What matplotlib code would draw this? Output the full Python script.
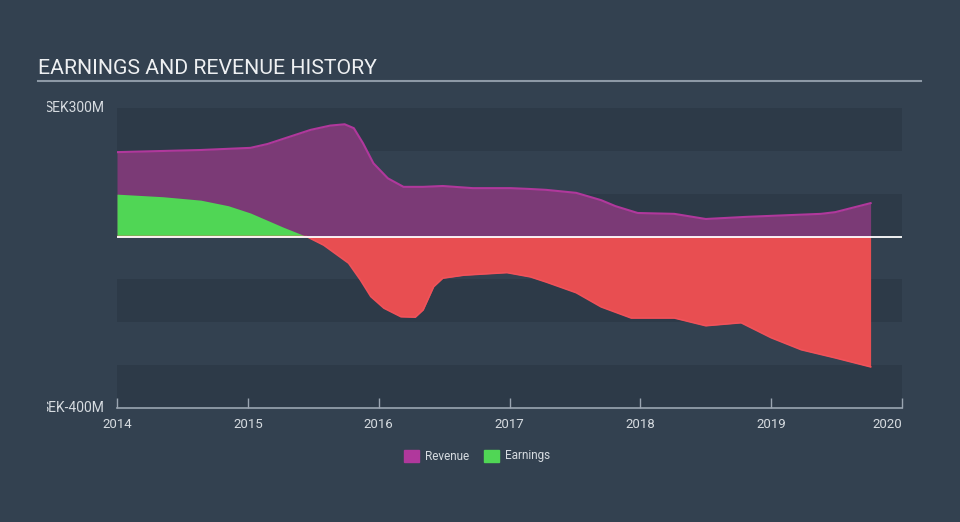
import matplotlib.pyplot as plt
import matplotlib.transforms as mtransforms
from matplotlib.patches import Rectangle

plt.rcParams['font.family'] = ['Roboto', 'DejaVu Sans']

# revenue (SEK millions), decimal years
rev_years = [2014.00, 2014.64, 2015.02, 2015.15, 2015.32, 2015.48, 2015.63, 2015.74,
             2015.81, 2015.88, 2015.96, 2016.07, 2016.19, 2016.34, 2016.49, 2016.72,
             2017.01, 2017.16, 2017.28, 2017.51, 2017.70, 2017.81, 2017.98, 2018.26,
             2018.50, 2018.81, 2019.38, 2019.49, 2019.76]
revenue = [197, 202, 207, 216, 233, 249, 259, 262,
           253, 218, 171, 136, 116, 116, 118, 113,
           113, 111, 109, 102, 85, 71, 55, 53,
           41, 46, 53, 57, 78]

# earnings (SEK millions)
earn_years = [2014.00, 2014.35, 2014.64, 2014.85, 2015.02, 2015.27, 2015.45, 2015.58,
              2015.77, 2015.86, 2015.94, 2016.04, 2016.17, 2016.28, 2016.34, 2016.42,
              2016.49, 2016.65, 2016.98, 2017.16, 2017.28, 2017.51, 2017.70, 2017.93,
              2018.26, 2018.50, 2018.77, 2019.00, 2019.23, 2019.49, 2019.76]
earnings = [99, 93, 85, 72, 55, 22, 0, -20,
            -62, -101, -140, -167, -187, -188, -171, -117,
            -97, -90, -84, -94, -106, -131, -164, -190,
            -190, -208, -201, -236, -264, -283, -304]

year_ticks = [2014, 2015, 2016, 2017, 2018, 2019, 2020]
ytick_labels = {300: 'SEK300M', -400: 'SEK-400M'}

bg = '#334150'
band = '#2d3a48'
text_col = '#d6dbe0'

fig = plt.figure(figsize=(9.6, 5.22), dpi=100)
fig.patch.set_facecolor(bg)
ax = fig.add_axes([117/960, (522-408)/522, (902-117)/960, 300/522])
ax.set_facecolor(bg)
ax.set_xlim(2014, 2020)
ax.set_ylim(-400, 300)

# alternating bands
for lo in [200, 0, -200, -400]:
    ax.axhspan(lo, lo + 100, color=band, lw=0, zorder=0)

ax.fill_between(rev_years, revenue, 0, color='#7b3a76', lw=0, zorder=2)
ax.plot(rev_years, revenue, color='#b0389c', lw=1.5, zorder=3)

ax.fill_between(earn_years, earnings, 0, where=[e >= 0 for e in earnings],
                interpolate=True, color='#50d655', lw=0, zorder=4)
ax.fill_between(earn_years, earnings, 0, where=[e <= 0 for e in earnings],
                interpolate=True, color='#e84e51', lw=0, zorder=4)
neg = [min(e, 0) for e in earnings]
ax.plot(earn_years, neg, color='#f0525a', lw=1.2, zorder=5)

ax.axhline(0, color='white', lw=1.3, zorder=6)

for s in ['top', 'right', 'left']:
    ax.spines[s].set_visible(False)
ax.spines['bottom'].set_color('#9aa5b1')
ax.spines['bottom'].set_linewidth(1.2)
ax.set_xticks(year_ticks)
ax.set_xticklabels([str(y) for y in year_ticks])
ax.tick_params(axis='x', direction='in', colors='#9aa5b1', labelcolor=text_col,
               labelsize=9.5, length=7, width=1, pad=7)
ax.get_xticklabels()[-1].set_horizontalalignment('right')
ax.set_yticks([])

# y labels, cut off at the left like the original
clip_ax = fig.add_axes([47/960, 0, (117-47)/960, 1])
clip_ax.axis('off')
trans = mtransforms.blended_transform_factory(fig.transFigure, ax.transData)
for v, lab in ytick_labels.items():
    clip_ax.text(104/960, v, lab, transform=trans, ha='right', va='center',
                 color=text_col, fontsize=10, clip_on=True)

# title
fig.text(38/960, 1 - 68/522, 'EARNINGS AND REVENUE HISTORY', color='#eef0f2',
         fontsize=15.3, ha='left', va='center')
fig.add_artist(plt.Line2D([38/960, 921/960], [1 - 81/522, 1 - 81/522],
                          color='#8d99a6', lw=1.5))

# legend
for x0, col, lab in [(404, '#b0389c', 'Revenue'), (484, '#50d655', 'Earnings')]:
    fig.add_artist(Rectangle((x0/960, 1 - 462/522), 15/960, 12/522,
                             color=col, transform=fig.transFigure))
    fig.text((x0 + 21)/960, 1 - 456/522, lab, color=text_col, fontsize=8.5,
             ha='left', va='center')

fig.savefig('out.png', dpi=100, facecolor=bg)
